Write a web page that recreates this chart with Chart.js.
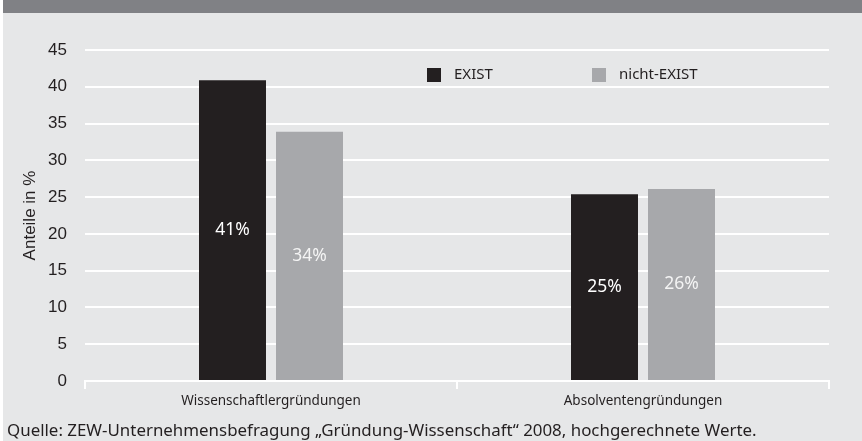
<!DOCTYPE html>
<html lang="de">
<head>
<meta charset="utf-8">
<script src="https://cdn.jsdelivr.net/npm/chart.js@4.4.1/dist/chart.umd.min.js"></script>
<style>
  html, body { margin: 0; padding: 0; background: #ffffff; width: 862px; height: 441px; overflow: hidden; }
  #bg { position: absolute; left: 3px; top: 0; width: 859px; height: 441px; background: #e6e7e8; }
  #header { position: absolute; left: 3px; top: 0; width: 859px; height: 13px; background: #808185; }
  #wrap { position: absolute; left: 0; top: 0; width: 862px; height: 441px; }
  #source { position: absolute; left: 7px; top: 419px; font-family: "Noto Sans", sans-serif; font-size: 16.9px; line-height: 22px; color: #231f20; white-space: nowrap; }
</style>
</head>
<body>
<div id="bg"></div>
<div id="header"></div>
<div id="wrap"><canvas id="c" width="862" height="441"></canvas></div>
<div id="source">Quelle: ZEW-Unternehmensbefragung „Gründung-Wissenschaft“ 2008, hochgerechnete Werte.</div>
<script>
const categories = ['Wissenschaftlergründungen', 'Absolventengründungen'];
const seriesNames = ['EXIST', 'nicht-EXIST'];
const existValues = [40.9, 25.4];
const nichtExistValues = [33.9, 26.1];
const yTicks = [0, 5, 10, 15, 20, 25, 30, 35, 40, 45];
const yTitle = 'Anteile in %';

const darkColor = '#231f20';
const greyColor = '#a7a8ab';

const barLabels = {
  id: 'barLabels',
  afterDatasetsDraw(chart) {
    const ctx = chart.ctx;
    ctx.save();
    ctx.font = '17.5px "Noto Sans", sans-serif';
    ctx.textAlign = 'center';
    ctx.textBaseline = 'middle';
    chart.data.datasets.forEach((ds, di) => {
      const meta = chart.getDatasetMeta(di);
      meta.data.forEach((bar, i) => {
        ctx.fillStyle = di === 0 ? '#ffffff' : '#f4f4f4';
        ctx.fillText(Math.round(ds.data[i]) + '%', bar.x, (bar.y + bar.base) / 2);
      });
    });
    ctx.restore();
  }
};

const innerLegend = {
  id: 'innerLegend',
  afterDraw(chart) {
    const ctx = chart.ctx;
    const area = chart.chartArea;
    const offsets = [342, 507];
    ctx.save();
    ctx.font = '15px "Noto Sans", sans-serif';
    ctx.textBaseline = 'middle';
    ctx.textAlign = 'left';
    chart.data.datasets.forEach((ds, di) => {
      const x = area.left + offsets[di];
      const y = area.top + 18;
      ctx.fillStyle = ds.backgroundColor;
      ctx.fillRect(x, y, 14, 14);
      ctx.fillStyle = darkColor;
      ctx.fillText(ds.label, x + 27, y + 7);
    });
    ctx.restore();
  }
};

new Chart(document.getElementById('c'), {
  type: 'bar',
  data: {
    labels: categories,
    datasets: [
      { label: seriesNames[0], data: existValues, backgroundColor: darkColor, categoryPercentage: 0.414, barPercentage: 0.87 },
      { label: seriesNames[1], data: nichtExistValues, backgroundColor: greyColor, categoryPercentage: 0.414, barPercentage: 0.87 }
    ]
  },
  options: {
    responsive: false,
    animation: false,
    layout: { padding: { top: 50, right: 33, left: 0, bottom: 0 } },
    plugins: { legend: { display: false }, tooltip: { enabled: false } },
    scales: {
      x: {
        grid: { display: true, drawOnChartArea: false, drawTicks: true, tickLength: 8, color: '#ffffff', lineWidth: 2, offset: true },
        border: { display: true, color: '#ffffff', width: 2 },
        ticks: { color: darkColor, font: { family: '"Noto Sans", sans-serif', size: 13.5 }, padding: 4, maxRotation: 0 },
        afterFit(s) { s.height = 60; }
      },
      y: {
        min: 0,
        max: 45,
        afterBuildTicks(s) { s.ticks = yTicks.map(v => ({ value: v })); },
        grid: { color: '#ffffff', lineWidth: 2, drawTicks: false },
        border: { display: false },
        ticks: { color: darkColor, font: { family: '"Liberation Sans", Arial, sans-serif', size: 17 }, padding: 18 },
        title: { display: true, text: yTitle, color: darkColor, font: { family: '"Liberation Sans", Arial, sans-serif', size: 17 }, padding: { top: 20, bottom: 0 } },
        afterFit(s) { s.width = 85; }
      }
    }
  },
  plugins: [barLabels, innerLegend]
});
</script>
</body>
</html>
